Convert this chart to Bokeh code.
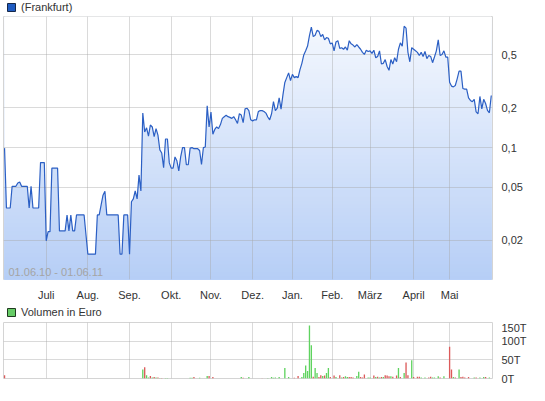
import math
import pandas as pd
from bokeh.plotting import figure
from bokeh.layouts import column
from bokeh.models import (Range1d, FixedTicker, CustomJSTickFormatter, Legend,
                          LegendItem, Label)
from bokeh.embed import file_html
from bokeh.resources import INLINE

# ---------------- data ----------------
start_date = "2010-06-01"
end_date = "2011-06-01"
holidays = ["2010-12-24", "2010-12-31", "2011-04-22", "2011-04-25"]
month_labels = ["Juli", "Aug.", "Sep.", "Okt.", "Nov.", "Dez.", "Jan.",
                "Feb.", "März", "April", "Mai"]
period_label = "01.06.10 - 01.06.11"
price_legend = "(Frankfurt)"
volume_legend = "Volumen in Euro"

close = [
    0.099, 0.035, 0.035, 0.035, 0.051, 0.051, 0.051, 0.054, 0.055, 0.051,
    0.051, 0.051, 0.051, 0.035, 0.051, 0.035, 0.035, 0.035, 0.035, 0.077,
    0.077, 0.077, 0.0198, 0.0232, 0.0232, 0.070, 0.070, 0.070, 0.070, 0.0235,
    0.0235, 0.0235, 0.0235, 0.031, 0.0235, 0.031, 0.0235, 0.0235, 0.031, 0.031,
    0.031, 0.031, 0.031, 0.022, 0.0157, 0.0157, 0.0157, 0.0157, 0.0157, 0.031,
    0.031, 0.037, 0.0437, 0.0468, 0.031, 0.031, 0.031, 0.031, 0.031, 0.031,
    0.031, 0.0157, 0.0157, 0.031, 0.031, 0.031, 0.0157, 0.039, 0.041, 0.047,
    0.041, 0.062, 0.047, 0.182, 0.131, 0.141, 0.122, 0.148, 0.143, 0.121,
    0.139, 0.124, 0.096, 0.091, 0.0705, 0.116, 0.116, 0.0766, 0.070, 0.070,
    0.085, 0.0795, 0.0667, 0.085, 0.100, 0.100, 0.0742, 0.0742, 0.099, 0.100,
    0.098, 0.098, 0.098, 0.095, 0.0745, 0.100, 0.101, 0.207, 0.143, 0.185,
    0.126, 0.137, 0.143, 0.139, 0.149, 0.166, 0.171, 0.175, 0.171, 0.169,
    0.166, 0.171, 0.162, 0.152, 0.180, 0.176, 0.154, 0.196, 0.198, 0.190,
    0.162, 0.159, 0.162, 0.162, 0.187, 0.190, 0.190, 0.187, 0.182, 0.170,
    0.162, 0.180, 0.222, 0.190, 0.198, 0.237, 0.195, 0.25, 0.31, 0.337,
    0.366, 0.32, 0.357, 0.337, 0.343, 0.337, 0.387, 0.432, 0.50, 0.537,
    0.583, 0.70, 0.81, 0.687, 0.705, 0.766, 0.753, 0.687, 0.713, 0.650,
    0.676, 0.668, 0.606, 0.616, 0.537, 0.626, 0.640, 0.561, 0.567, 0.552,
    0.574, 0.543, 0.640, 0.606, 0.593, 0.574, 0.599, 0.574, 0.552, 0.523,
    0.504, 0.543, 0.531, 0.537, 0.514, 0.543, 0.476, 0.487, 0.537, 0.427,
    0.432, 0.461, 0.409, 0.383, 0.461, 0.427, 0.476, 0.444, 0.552, 0.616,
    0.583, 0.823, 0.797, 0.523, 0.444, 0.567, 0.552, 0.537, 0.523, 0.495,
    0.523, 0.487, 0.531, 0.469, 0.495, 0.487, 0.437, 0.482, 0.537, 0.650,
    0.495, 0.504, 0.537, 0.482, 0.482, 0.311, 0.291, 0.287, 0.294, 0.33,
    0.377, 0.377, 0.279, 0.276, 0.276, 0.237, 0.227, 0.222, 0.231, 0.186,
    0.180, 0.243, 0.196, 0.231, 0.215, 0.191, 0.183, 0.247,
]

# volume (thousand euro) on trading days with turnover; 1 = up day, 0 = down day
vol_day = [0, 73, 74, 75, 76, 77, 78, 79, 80, 81, 82, 83, 85, 86,
           98, 99, 100, 103, 107, 108, 110, 125, 126, 129, 136, 139, 141, 142,
           143, 145, 148, 150, 153, 155, 157, 158, 159, 160, 161, 162, 163,
           164, 165, 166, 167, 168, 169, 170, 171, 172, 174, 175, 177, 178,
           179, 180, 181, 182, 183, 184, 186, 187, 188, 189, 190, 192, 193,
           195, 196, 197, 198, 199, 200, 201, 202, 203, 204, 205, 207, 208,
           209, 211, 212, 213, 215, 216, 218, 219, 220, 222, 224, 225, 226,
           227, 229, 230, 232, 235, 236, 237, 238, 240, 241, 242, 243, 245,
           248, 249, 251, 253, 254, 256]
vol_k = [9, 24, 30, 9, 3, 7, 2.5, 4, 2.5, 3, 1.5, 1.5, 1.5, 1.5,
         2, 2, 4, 2, 7, 7, 4, 4, 2, 4, 1, 1.5, 4, 2,
         3, 4, 28, 4, 2, 7, 4, 15, 35, 20, 142, 89, 5,
         28, 15, 4, 9, 7, 8, 15, 28, 4, 8, 4, 9, 3,
         4, 6, 4, 4, 4, 3, 7, 18, 4, 3, 11, 3, 3,
         8, 4, 5, 3, 4, 4, 9, 8, 6, 6, 5, 8, 28,
         4, 15, 43, 9, 49, 4, 5, 5, 3, 3, 3, 5, 3,
         3, 6, 3, 6, 85, 24, 4, 3, 24, 4, 5, 3, 4,
         3, 3, 3, 4, 4, 3]
vol_up = [0, 1, 0, 1, 1, 0, 1, 0, 1, 0, 1, 0, 1, 1,
          1, 1, 0, 1, 1, 0, 0, 1, 0, 1, 0, 1, 1, 1,
          1, 1, 1, 1, 0, 0, 1, 1, 1, 1, 1, 1, 0,
          1, 1, 0, 0, 1, 0, 1, 1, 0, 0, 1, 0, 1,
          0, 1, 1, 0, 0, 0, 1, 1, 0, 0, 0, 1, 1,
          0, 1, 0, 1, 0, 1, 0, 0, 0, 1, 0, 0, 1,
          0, 1, 0, 0, 1, 0, 0, 0, 1, 1, 0, 0, 1,
          1, 1, 0, 1, 0, 0, 1, 0, 1, 0, 0, 0, 0,
          1, 0, 1, 1, 0, 1]

price_ticks = [0.02, 0.05, 0.1, 0.2, 0.5]
volume_ticks = [0, 50, 100, 150]
volume_tick_labels = ["0T", "50T", "100T", "150T"]

# ---------------- derived ----------------
days = pd.bdate_range(start_date, end_date)
days = days[~days.isin(pd.to_datetime(holidays))]
n = len(close)
assert len(days) == n, (len(days), n)
assert len(vol_day) == len(vol_k) == len(vol_up)
xs = list(range(n))
month_starts = [i for i in range(1, n) if days[i].month != days[i - 1].month][:len(month_labels)]

FONT = "Liberation Sans"
W = 529
LEFT, RIGHT = 3, 29
Y_LO, Y_HI = 0.0101, 0.975
GRID_C = "#a6a6a6"
GRID_A = 0.42


def style_axis(ax):
    ax.axis_line_color = None
    ax.major_tick_line_color = None
    ax.minor_tick_line_color = None
    ax.major_label_text_font = FONT
    ax.major_label_text_font_size = "11px"
    ax.major_label_text_color = "#333333"


def legend_row(label, fill, line, height):
    f = figure(width=W, height=height, x_range=Range1d(0, 1), y_range=Range1d(0, 1),
               x_axis_location=None, y_axis_location=None, toolbar_location=None,
               output_backend="svg", min_border=0, outline_line_color=None,
               background_fill_color="white", border_fill_color="white")
    f.grid.visible = False
    # legend swatch renderer: one placeholder quad kept outside the visible range
    r = f.quad(left=[-3], right=[-2], bottom=[-3], top=[-2], fill_color=fill,
               line_color=line, line_width=1)
    f.add_layout(Legend(items=[LegendItem(label=label, renderers=[r])],
                        location="center_left", orientation="horizontal",
                        border_line_color=None, background_fill_alpha=0,
                        padding=0, margin=3, glyph_width=10, glyph_height=10,
                        label_standoff=5, label_text_font=FONT,
                        label_text_font_size="11px", label_text_color="#333333",
                        label_height=10))
    return f


# ---------------- legend rows ----------------
leg1 = legend_row(price_legend, "#1f5cc2", "#15284a", 14)
leg2 = legend_row(volume_legend, "#66cc66", "#1f3a1f", 18)

# ---------------- price panel ----------------
p1 = figure(width=W, height=289, x_range=Range1d(-0.55, n - 1 + 0.65),
            y_range=Range1d(Y_LO, Y_HI), y_axis_type="log", y_axis_location="right",
            toolbar_location=None, output_backend="svg",
            min_border_left=LEFT, min_border_right=RIGHT, min_border_top=2,
            min_border_bottom=15, outline_line_color="#d4d4d4",
            background_fill_color="white", border_fill_color="white")

# vertical gradient below the price line: stacked bands + white mask above line
nb = 70
lo, hi = math.log10(Y_LO), math.log10(Y_HI)
tops = [10 ** (lo + (hi - lo) * (k + 1) / nb) for k in range(nb)]
top_rgb, bot_rgb = (246, 249, 254), (182, 206, 246)
band_colors = []
for k in range(nb):
    t = (k + 0.5) / nb
    band_colors.append("#%02x%02x%02x" % tuple(round(b + (tp - b) * t) for b, tp in zip(bot_rgb, top_rgb)))
order = list(range(nb))[::-1]
p1.quad(left=0, right=n - 1, bottom=Y_LO, top=[tops[k] for k in order],
        fill_color=[band_colors[k] for k in order], line_color=None, level="image")
p1.varea(x=xs, y1=close, y2=Y_HI, fill_color="white", level="image")
p1.line(xs, close, line_color="#2b5fc4", line_width=1.2)

p1.xgrid.ticker = FixedTicker(ticks=month_starts)
p1.ygrid.ticker = FixedTicker(ticks=price_ticks)
for g in (p1.xgrid, p1.ygrid):
    g.grid_line_color = GRID_C
    g.grid_line_alpha = GRID_A

p1.xaxis.ticker = FixedTicker(ticks=month_starts)
p1.xaxis.major_label_overrides = {i: lab for i, lab in zip(month_starts, month_labels)}
p1.xaxis.major_label_standoff = 3
p1.yaxis.ticker = FixedTicker(ticks=price_ticks)
p1.yaxis.formatter = CustomJSTickFormatter(code="return String(tick).replace('.', ',')")
p1.yaxis.major_label_standoff = 3
style_axis(p1.xaxis[0])
style_axis(p1.yaxis[0])

p1.add_layout(Label(x=5, y=2, x_units="screen", y_units="screen", text=period_label,
                    text_font=FONT, text_font_size="11px", text_color="#a4a4a4",
                    text_baseline="bottom"))

# ---------------- volume panel ----------------
p2 = figure(width=W, height=64, x_range=p1.x_range, y_range=Range1d(0, 150),
            y_axis_location="right", toolbar_location=None, output_backend="svg",
            min_border_left=LEFT, min_border_right=RIGHT, min_border_top=1,
            min_border_bottom=7, outline_line_color="#d4d4d4",
            background_fill_color="white", border_fill_color="white")
p2.xaxis.visible = False
vcolors = ["#5fd35f" if u else "#dc5a5a" for u in vol_up]
p2.vbar(x=vol_day, top=vol_k, width=0.7, fill_color=vcolors, line_color=None)

p2.xgrid.ticker = FixedTicker(ticks=month_starts)
p2.ygrid.ticker = FixedTicker(ticks=volume_ticks)
for g in (p2.xgrid, p2.ygrid):
    g.grid_line_color = GRID_C
    g.grid_line_alpha = GRID_A
p2.yaxis.ticker = FixedTicker(ticks=volume_ticks)
p2.yaxis.major_label_overrides = {v: lab for v, lab in zip(volume_ticks, volume_tick_labels)}
p2.yaxis.major_label_standoff = 3
style_axis(p2.yaxis[0])

layout = column(leg1, p1, leg2, p2, spacing=0)
open("out.html", "w").write(file_html(layout, INLINE))
